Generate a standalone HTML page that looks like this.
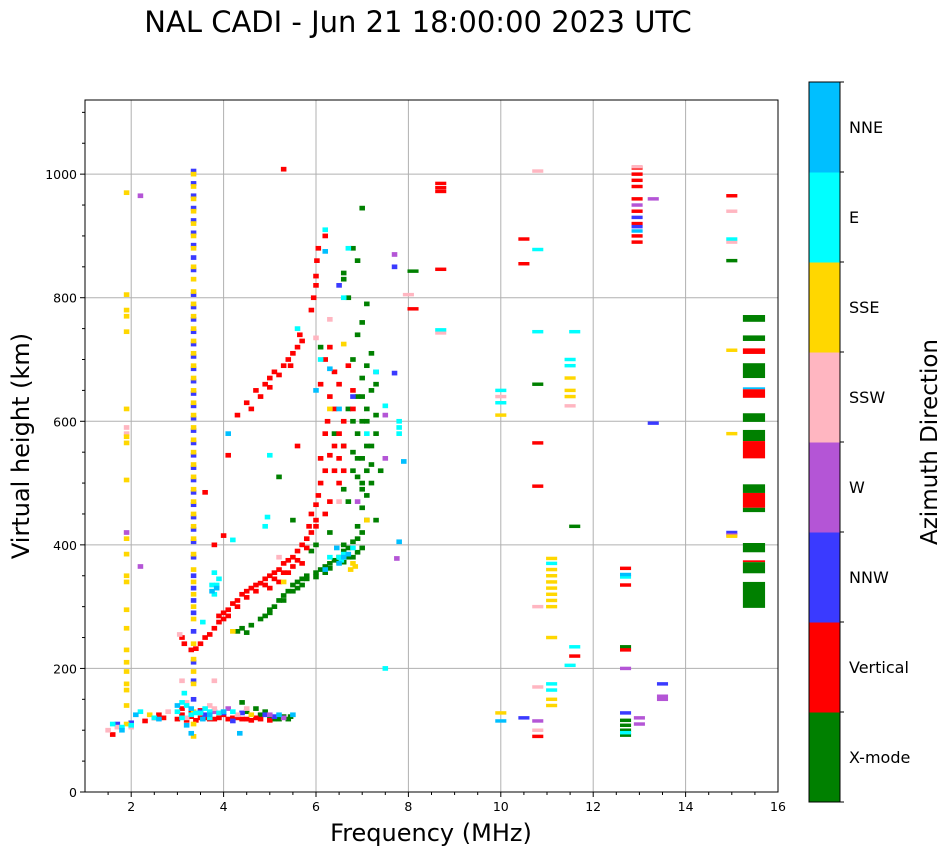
<!DOCTYPE html>
<html><head><meta charset="utf-8"><style>
html,body{margin:0;padding:0;background:#fff;}
svg{display:block;font-family:"DejaVu Sans","Liberation Sans",sans-serif;}
</style></head><body>
<svg id="chart" width="951" height="856" viewBox="0 0 951 856">
<text x="418" y="32" font-size="29" text-anchor="middle">NAL CADI - Jun 21 18:00:00 2023 UTC</text>
<g id="grid"></g>
<g id="marks"></g>
<rect x="85" y="100" width="693" height="692" fill="none" stroke="#000" stroke-width="1"/>
<g id="axes"></g>
<text x="431" y="841" font-size="24" text-anchor="middle">Frequency (MHz)</text>
<text transform="translate(29,446) rotate(-90)" font-size="24" text-anchor="middle">Virtual height (km)</text>
<g id="cbar"></g>
<text transform="translate(937,442) rotate(-90)" font-size="23" text-anchor="middle">Azimuth Direction</text>
</svg>
<script>
const directions = ["X-mode","Vertical","NNW","W","SSW","SSE","E","NNE"];
const dirColors = ["#008000","#ff0000","#3a3aff","#b455d6","#ffb6c1","#ffd700","#00ffff","#00bfff"];
const xTicks = [2,4,6,8,10,12,14,16];
const yTicks = [0,200,400,600,800,1000];

const xmodeEchoes = [[4.4,145],[4.7,135],[5.0,120],[5.2,118],[5.4,118],[4.9,130],[4.5,130],[5.3,122],[5.1,118],[5.45,122],[4.8,125],
[4.3,260],[4.4,265],[4.5,258],[4.6,270],[4.8,280],[4.9,285],[5.0,295],[5.1,300],[5.2,310],[5.3,318],[5.4,325],[5.5,335],[5.6,340],[5.7,345],[5.8,350],[6.0,355],[6.1,360],[6.2,365],[6.3,370],[6.4,375],[6.5,380],[6.6,390],[6.7,395],[6.8,405],[6.9,410],[7.0,420],[7.1,440],[7.0,460],[7.1,480],[7.2,500],[7.0,500],[7.1,520],[6.9,540],[7.2,560],[7.3,580],[7.0,600],[7.1,620],[6.9,640],[7.2,650],[7.0,670],[7.1,690],[6.8,700],[7.2,710],[6.9,740],[7.0,760],[7.1,790],[6.7,800],[6.6,830],[6.9,860],[6.8,880],[7.0,945],[6.6,840],[6.8,550],[6.9,510],[6.6,490],[6.7,470],[7.3,440],[7.4,520],[7.3,610],[6.8,600],[5.2,510],[5.5,440],[6.1,720],[6.4,580],[6.3,420],[6.0,400],[5.9,390],[5.6,330],[5.8,345],[6.2,355],[6.6,400],[6.9,430],[7.0,490],[7.2,530],[7.1,600],
[5.0,290],[5.3,310],[5.5,325],[5.7,335],[6.0,348],[6.3,362],[6.6,372],[6.8,380],[6.9,388],[7.0,395],[6.7,380],[6.5,372],[7.0,540],[6.8,520],[7.1,560],[6.9,580],[6.7,620],[7.0,640],[7.3,660],[6.6,560],
[8.1,843],[10.8,660],[11.6,430],[12.7,92],[12.7,100],[12.7,108],[12.7,116],[12.7,235],[15.0,860]];
const verticalEchoes = [[1.6,93],[2.3,115],[2.5,120],[2.6,125],[3.0,118],[3.1,125],[3.3,122],[3.5,120],[3.7,118],[3.9,120],[4.1,118],[4.3,120],[4.5,118],[4.7,120],[3.3,130],[3.5,132],[4.0,125],[3.6,120],[3.8,118],[4.2,120],[4.4,118],[3.2,116],[3.4,116],[4.6,116],[4.8,118],[5.0,116],[3.1,135],[2.7,120],
[3.1,250],[3.15,240],[3.3,230],[3.4,232],[3.5,240],[3.6,250],[3.7,255],[3.8,265],[3.9,275],[4.0,280],[4.0,290],[4.1,295],[4.2,305],[4.3,310],[4.4,320],[4.5,325],[4.6,330],[4.7,335],[4.8,338],[4.9,345],[5.0,350],[5.1,355],[5.2,360],[5.3,370],[5.4,375],[5.5,380],[5.6,390],[5.7,400],[5.8,410],[5.85,430],[5.9,450],[6.0,465],[6.05,480],[6.1,500],[6.2,520],[6.3,545],[6.4,560],[6.5,580],[6.25,600],[6.3,640],[6.5,660],[6.7,690],[6.3,720],[6.6,600],[6.4,620],[6.8,650],[6.5,500],[6.3,470],[6.6,520],[5.0,330],[5.2,340],[5.4,355],[5.7,370],[6.0,430],[6.2,450],[6.4,520],[6.6,560],
[3.9,285],[4.1,285],[4.3,300],[4.5,315],[4.7,325],[4.9,335],[5.1,345],[5.3,355],[5.5,365],[5.6,375],[5.8,395],[5.9,420],[6.0,440],[6.1,540],[6.5,540],[6.8,620],[6.2,580],[6.4,680],[6.1,660],[6.2,700],
[4.0,415],[3.8,400],[4.1,545],[3.6,485],[4.3,610],[4.5,630],[4.7,650],[4.9,660],[5.0,670],[5.1,680],[5.3,690],[5.4,700],[5.5,710],[5.7,730],[5.9,780],[5.95,800],[6.0,820],[6.02,860],[6.05,880],[6.2,900],[5.3,1008],[4.6,620],[4.8,640],[5.6,560],[5.2,675],[5.6,720],[5.0,655],[5.45,690],[5.65,740],[6.0,835],
[8.7,985],[8.7,978],[8.7,972],[8.7,846],[8.1,782],[10.5,895],[10.5,855],[10.8,565],[10.8,495],[10.8,90],[11.6,220],[12.7,362],[12.7,335],[12.7,230],[12.95,1010],[12.95,1000],[12.95,990],[12.95,980],[12.95,960],[12.95,940],[12.95,920],[12.95,900],[12.95,890],[15.0,965]];
const nnwEchoes = [[3.35,1005],[3.35,985],[3.35,965],[3.35,945],[3.35,925],[3.35,905],[3.35,885],[3.35,865],[3.35,845],[3.35,805],[3.35,785],[3.35,765],[3.35,745],[3.35,725],[3.35,705],[3.35,685],[3.35,665],[3.35,645],[3.35,625],[3.35,605],[3.35,585],[3.35,565],[3.35,545],[3.35,525],[3.35,505],[3.35,485],[3.35,465],[3.35,445],[3.35,425],[3.35,405],[3.35,380],[3.35,350],[3.35,330],[3.35,310],[3.35,290],[3.35,260],[3.35,210],[3.35,180],[3.35,150],
[1.7,110],[2.0,112],[3.5,130],[3.8,130],[4.2,115],[4.9,125],[7.3,680],[7.7,850],[7.7,678],[10.5,120],[12.7,128],[13.3,597],[13.5,175],[12.95,930],[12.95,915],[6.8,640],[6.5,820],[4.0,128],[15.0,420],[3.6,125],[4.4,128],[5.1,122]];
const wEchoes = [[1.9,420],[2.2,965],[2.2,365],[3.8,130],[4.1,135],[5.0,125],[5.3,120],[7.5,540],[7.5,610],[7.7,870],[7.75,378],[10.8,115],[12.7,200],[13.0,110],[13.0,120],[13.3,960],[13.5,155],[13.5,150],[15.0,416],[6.9,470],[12.95,950]];
const sswEchoes = [[1.5,100],[1.7,105],[1.9,590],[1.9,580],[2.0,105],[2.8,130],[3.1,180],[3.2,145],[3.8,180],[3.7,140],[4.0,130],[4.3,125],[6.0,735],[6.3,765],[8.7,743],[8.0,805],[10.0,640],[10.8,1005],[10.8,300],[10.8,170],[10.8,100],[11.5,625],[12.95,1012],[15.0,940],[15.0,890],[5.2,380],[6.5,470],[3.05,255],[3.2,120],[3.8,135],[4.5,135]];
const sseEchoes = [[3.35,1000],[3.35,980],[3.35,960],[3.35,940],[3.35,920],[3.35,900],[3.35,880],[3.35,850],[3.35,830],[3.35,810],[3.35,790],[3.35,770],[3.35,750],[3.35,730],[3.35,710],[3.35,690],[3.35,670],[3.35,650],[3.35,630],[3.35,610],[3.35,590],[3.35,570],[3.35,550],[3.35,530],[3.35,510],[3.35,490],[3.35,470],[3.35,450],[3.35,430],[3.35,410],[3.35,385],[3.35,360],[3.35,340],[3.35,320],[3.35,300],[3.35,280],[3.35,240],[3.35,215],[3.35,195],[3.35,175],[3.35,130],[3.35,110],[3.35,90],
[1.9,970],[1.9,805],[1.9,780],[1.9,770],[1.9,745],[1.9,620],[1.9,575],[1.9,565],[1.9,505],[1.9,410],[1.9,385],[1.9,350],[1.9,340],[1.9,295],[1.9,265],[1.9,230],[1.9,210],[1.9,195],[1.9,175],[1.9,165],[1.9,140],[1.9,110],
[6.75,360],[6.85,365],[6.8,370],[7.1,440],[6.6,725],[6.3,620],[4.2,260],[5.3,340],[4.6,125],[2.4,125],[10.0,610],[10.0,128],[11.1,300],[11.1,310],[11.1,320],[11.1,330],[11.1,340],[11.1,350],[11.1,360],[11.1,378],[11.1,250],[11.1,140],[11.1,150],[11.5,640],[11.5,650],[11.5,670],[15.0,715],[15.0,580],[15.0,414]];
const eEchoes = [[1.6,110],[1.8,105],[2.0,108],[2.2,130],[2.5,120],[3.0,130],[3.1,145],[3.15,160],[3.3,125],[3.5,128],[3.6,135],[3.7,120],[4.2,130],[3.8,320],[3.85,335],[3.9,345],[3.8,355],[3.55,275],[4.2,408],[4.9,430],[4.95,445],[5.0,545],[5.6,750],[6.2,910],[6.7,880],[6.6,800],[6.1,700],[6.5,380],[6.6,385],[6.55,375],[7.8,580],[7.8,590],[7.8,600],[7.5,625],[7.1,580],[7.3,680],[8.7,748],[10.0,650],[10.0,630],[10.8,878],[10.8,745],[11.1,370],[11.1,165],[11.1,175],[11.5,700],[11.5,690],[11.6,745],[11.6,235],[11.5,205],[12.7,348],[12.7,96],[15.0,895],[7.5,200],[6.3,380],[6.8,395],[3.4,128],[3.1,120],[3.2,140],[3.7,130],[3.9,128],[3.75,335]];
const nneEchoes = [[1.8,100],[2.1,125],[2.6,118],[3.0,140],[3.2,108],[3.3,95],[3.7,125],[4.0,130],[4.35,95],[5.2,125],[5.5,125],[6.2,875],[6.3,685],[6.0,650],[6.5,620],[4.1,580],[3.75,325],[3.85,330],[6.45,395],[6.5,370],[6.6,380],[6.7,385],[6.2,360],[7.8,405],[7.9,535],[12.7,352],[10.0,115],[12.95,908],[3.3,135],[3.55,118]];
const echoSeries = [xmodeEchoes,verticalEchoes,nnwEchoes,wEchoes,sswEchoes,sseEchoes,eEchoes,nneEchoes];

// wide stepped-frequency blocks near 15.5 MHz: bottom km, top km, direction index
const blockBottoms = [761,730,709,670,638,652,599,568,540,484,460,453,388,372,354,298];
const blockTops    = [772,739,718,694,652,655,613,586,568,498,484,460,403,375,372,340];
const blockDirs    = [0,0,1,0,1,7,0,0,1,0,1,0,0,1,0,0];
const blockFreqStart = 15.24, blockFreqEnd = 15.72;

const X0=85,X1=778,Y0=792,Y1=100, FMIN=1,FMAX=16,HMIN=0,HMAX=1120;
const xs = f => X0 + (f-FMIN)/(FMAX-FMIN)*(X1-X0);
const ys = h => Y0 - (h-HMIN)/(HMAX-HMIN)*(Y0-Y1);
const NS="http://www.w3.org/2000/svg";
function mk(tag, attrs, parent){const e=document.createElementNS(NS,tag);for(const k in attrs)e.setAttribute(k,attrs[k]);parent.appendChild(e);return e;}

const grid=document.getElementById('grid');
xTicks.forEach(t=>{ if(t<FMAX){const l=mk('line',{x1:xs(t),x2:xs(t),y1:Y1,y2:Y0,stroke:'#b0b0b0','stroke-width':1},grid);

}});
yTicks.forEach(t=>{ if(t>0){const l=mk('line',{x1:X0,x2:X1,y1:ys(t),y2:ys(t),stroke:'#b0b0b0','stroke-width':1},grid);

}});

const marks=document.getElementById('marks');
echoSeries.forEach((series,d)=>{
  series.forEach(p=>{
    const w = p[0]<8 ? 0.12 : 0.24;
    const hh = p[0]<8 ? 3.8 : 2.8;
    const r=mk('rect',{x:xs(p[0]-w/2),y:ys(p[1]+hh),width:xs(p[0]+w/2)-xs(p[0]-w/2),height:ys(p[1]-hh)-ys(p[1]+hh),fill:dirColors[d]},marks);
    
    
  });
});
blockBottoms.forEach((b,i)=>{
  const r=mk('rect',{x:xs(blockFreqStart),y:ys(blockTops[i]),width:xs(blockFreqEnd)-xs(blockFreqStart),height:ys(b)-ys(blockTops[i]),fill:dirColors[blockDirs[i]]},marks);
  
  
});

const axes=document.getElementById('axes');
for(let f=1.5; f<FMAX; f+=0.5){ const major=xTicks.includes(f);
  const t=mk('line',{x1:xs(f),x2:xs(f),y1:Y0,y2:Y0+(major?5:3),stroke:'#000'},axes);
  
  }
xTicks.forEach(v=>{const t=mk('text',{x:xs(v),y:Y0+19,'font-size':12.5,'text-anchor':'middle'},axes);t.textContent=v;

});
for(let h=0; h<=1100; h+=50){ const major=yTicks.includes(h);
  const t=mk('line',{x1:X0,x2:X0-(major?5:3),y1:ys(h),y2:ys(h),stroke:'#000'},axes);
  
  }
yTicks.forEach(v=>{const t=mk('text',{x:X0-8,y:ys(v)+5,'font-size':12.5,'text-anchor':'end'},axes);t.textContent=v;

});

const cbar=document.getElementById('cbar');
const CX=809,CW=31,CT=82,CB=802,seg=(CB-CT)/directions.length;
directions.forEach((name,i)=>{
  const y=CB-(i+1)*seg;
  const r=mk('rect',{x:CX,y:y,width:CW,height:seg+0.5,fill:dirColors[i]},cbar);
  
  
  const t=mk('text',{x:CX+CW+9,y:y+seg/2+6,'font-size':16},cbar);t.textContent=name;
  
  
});
for(let i=0;i<=directions.length;i++){const tk=mk('line',{x1:CX+CW,x2:CX+CW+4,y1:CT+i*seg,y2:CT+i*seg,stroke:'#000'},cbar);

}
const fr=mk('rect',{x:CX,y:CT,width:CW,height:CB-CT,fill:'none',stroke:'#000'},cbar);


</script>
</body></html>
